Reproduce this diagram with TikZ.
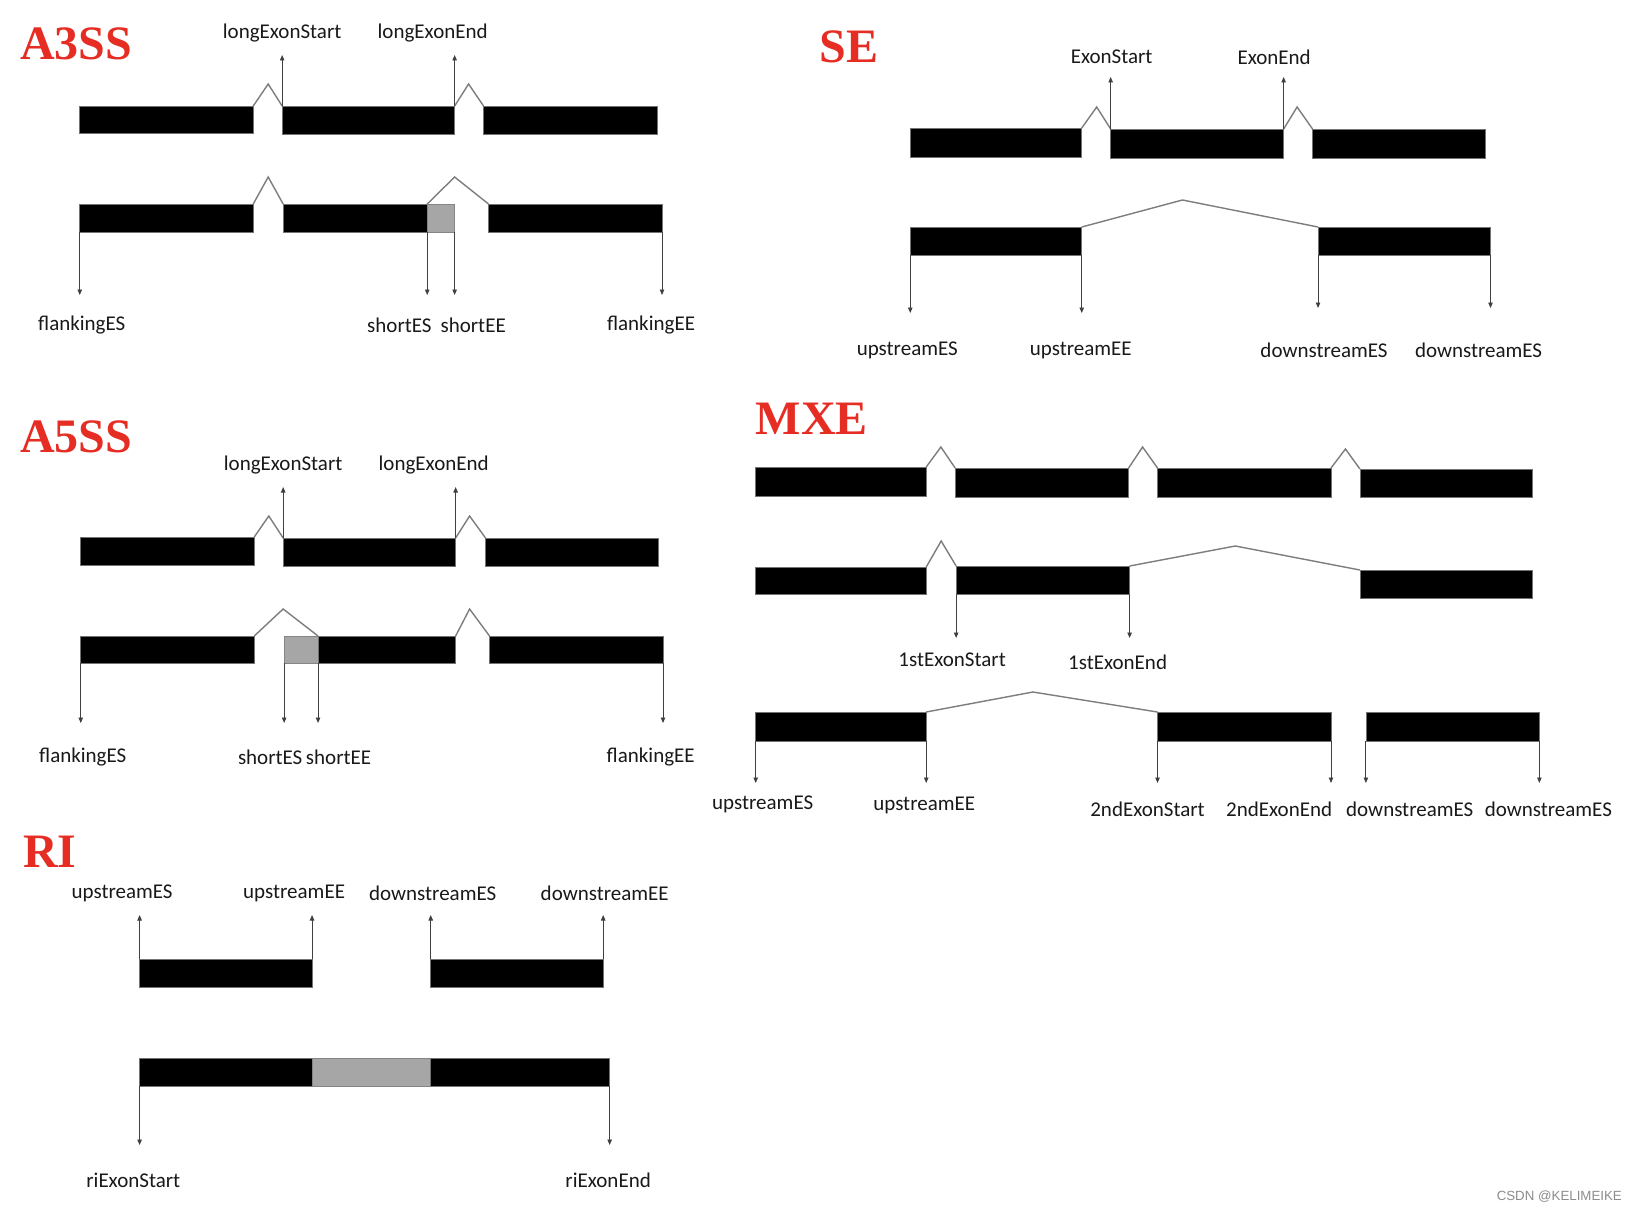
\documentclass[tikz,border=0pt]{standalone}
\usepackage{fontspec}
\setmainfont{Carlito}
\newfontfamily\titlefont{Liberation Serif}
\newfontfamily\wmfont{Liberation Sans}
\usetikzlibrary{arrows.meta}
\definecolor{titlered}{RGB}{230,45,35}
\definecolor{exongray}{RGB}{166,166,166}
\definecolor{intgray}{RGB}{125,125,125}
\newcommand{\mkexon}[6][exon]{\node[#1, anchor=north west, minimum width={(#5-#3)*0.997}, minimum height={#6-#4}] (#2) at (#3,#4) {};}
\newcommand{\ptr}[3]{\coordinate (#1) at ([yshift=#3]#2); \draw[pointer] (#2) -- (#1);}
\tikzset{
  exon/.style={rectangle, fill=black, draw=black!55, line width=0.6pt, inner sep=0pt, outer sep=0pt},
  grayexon/.style={exon, fill=exongray, draw=exongray!80!black},
  intron/.style={draw=intgray, line width=1.4pt, line join=miter},
  pointer/.style={draw=black!75, line width=0.9pt, -{Triangle[length=5.5pt,width=4.5pt]}},
  lab/.style={inner sep=0pt, text=black!90, font=\fontsize{21}{25}\selectfont},
  ttl/.style={inner sep=0pt, anchor=base west, text=titlered, font=\titlefont\bfseries\fontsize{48}{52}\selectfont},
}
\begin{document}
\begin{tikzpicture}[x=0.997pt, y=-1pt]
\useasboundingbox[fill=white] (0,0) rectangle (1640.92,1212);

% ================= A3SS =================
\node[ttl] (tA3) at (20,60) {A3SS};
\node[lab] (la3s) at (283,33) {longExonStart};
\node[lab] (la3e) at (434,33) {longExonEnd};
\mkexon{a1e1}{80}{106}{254}{133}
\mkexon{a1e2}{283}{106}{456}{134}
\mkexon{a1e3}{485}{106}{659}{134}
\coordinate (a1p1) at (269,84);
\coordinate (a1p2) at (470,84);
\draw[intron] (a1e1.north east) -- (a1p1) -- (a1e2.north west);
\draw[intron] (a1e2.north east) -- (a1p2) -- (a1e3.north west);
\ptr{a1u1}{a1e2.north west}{51pt}
\ptr{a1u2}{a1e2.north east}{51pt}
\mkexon{a2e1}{80}{204}{254}{232}
\mkexon{a2e2}{284}{204}{428.5}{232}
\mkexon[grayexon]{a2g}{428.5}{204}{456}{232}
\mkexon{a2e3}{490}{204}{664}{232}
\coordinate (a2p1) at (269,177);
\coordinate (a2p2) at (456,177);
\draw[intron] (a2e1.north east) -- (a2p1) -- (a2e2.north west);
\draw[intron] (a2g.north west) -- (a2p2) -- (a2e3.north west);
\ptr{a2d1}{a2e1.south west}{-63pt}
\ptr{a2d2}{a2g.south west}{-63pt}
\ptr{a2d3}{a2g.south east}{-63pt}
\ptr{a2d4}{a2e3.south east}{-63pt}
\node[lab] (la3fs) at (82,325) {flankingES};
\node[lab] (la3ss) at (400.6,325) {shortES};
\node[lab] (la3se) at (474.6,325) {shortEE};
\node[lab] (la3fe) at (653,325) {flankingEE};

% ================= SE =================
\node[ttl] (tSE) at (822,63) {SE};
\node[lab] (lses) at (1115,57) {ExonStart};
\node[lab] (lsee) at (1278,57) {ExonEnd};
\mkexon{s1e1}{913}{128}{1085}{157}
\mkexon{s1e2}{1114}{129}{1287.5}{158}
\mkexon{s1e3}{1316.5}{129}{1490}{158}
\coordinate (s1p1) at (1100,107);
\coordinate (s1p2) at (1301,107);
\draw[intron] (s1e1.north east) -- (s1p1) -- (s1e2.north west);
\draw[intron] (s1e2.north east) -- (s1p2) -- (s1e3.north west);
\ptr{s1u1}{s1e2.north west}{52pt}
\ptr{s1u2}{s1e2.north east}{52pt}
\mkexon{s2e1}{913}{227}{1085}{255}
\mkexon{s2e2}{1322}{227}{1495}{255}
\coordinate (s2p1) at (1186,200);
\draw[intron] (s2e1.north east) -- (s2p1) -- (s2e2.north west);
\ptr{s2d1}{s2e1.south west}{-58pt}
\ptr{s2d2}{s2e1.south east}{-58pt}
\ptr{s2d3}{s2e2.south west}{-53pt}
\ptr{s2d4}{s2e2.south east}{-53pt}
\node[lab] (lseus) at (910,350) {upstreamES};
\node[lab] (lseue) at (1084,350) {upstreamEE};
\node[lab] (lseds) at (1328,350) {downstreamES};
\node[lab] (lsede) at (1483,350) {downstreamES};

% ================= A5SS =================
\node[ttl] (tA5) at (20,452) {A5SS};
\node[lab] (la5s) at (284,465) {longExonStart};
\node[lab] (la5e) at (435,465) {longExonEnd};
\mkexon{b1e1}{81}{537}{255}{565}
\mkexon{b1e2}{284}{538}{457}{566}
\mkexon{b1e3}{487}{538}{660}{566}
\coordinate (b1p1) at (269.6,516);
\coordinate (b1p2) at (471,516);
\draw[intron] (b1e1.north east) -- (b1p1) -- (b1e2.north west);
\draw[intron] (b1e2.north east) -- (b1p2) -- (b1e3.north west);
\ptr{b1u1}{b1e2.north west}{51pt}
\ptr{b1u2}{b1e2.north east}{51pt}
\mkexon{b2e1}{81}{636}{255}{663}
\mkexon[grayexon]{b2g}{285}{636}{319}{663}
\mkexon{b2e2}{319}{636}{457}{663}
\mkexon{b2e3}{491}{636}{665}{663}
\coordinate (b2p1) at (284,609);
\coordinate (b2p2) at (471,609);
\draw[intron] (b2e1.north east) -- (b2p1) -- (b2e2.north west);
\draw[intron] (b2e2.north east) -- (b2p2) -- (b2e3.north west);
\ptr{b2d1}{b2e1.south west}{-60pt}
\ptr{b2d2}{b2g.south west}{-60pt}
\ptr{b2d3}{b2g.south east}{-60pt}
\ptr{b2d4}{b2e3.south east}{-60pt}
\node[lab] (la5fs) at (83,757) {flankingES};
\node[lab] (la5ss) at (271,757) {shortES};
\node[lab] (la5se) at (339.6,757) {shortEE};
\node[lab] (la5fe) at (652.7,757) {flankingEE};

% ================= MXE =================
\node[ttl] (tMXE) at (758,434) {MXE};
\mkexon{m1e1}{758}{467}{929}{496}
\mkexon{m1e2}{958}{468}{1132}{497}
\mkexon{m1e3}{1161}{468}{1335}{497}
\mkexon{m1e4}{1364}{469}{1537}{497}
\coordinate (m1p1) at (943.7,447);
\coordinate (m1p2) at (1146,447);
\coordinate (m1p3) at (1349.5,449);
\draw[intron] (m1e1.north east) -- (m1p1) -- (m1e2.north west);
\draw[intron] (m1e2.north east) -- (m1p2) -- (m1e3.north west);
\draw[intron] (m1e3.north east) -- (m1p3) -- (m1e4.north west);
\mkexon{m2e1}{758}{567}{929}{594}
\mkexon{m2e2}{959}{566}{1133}{594}
\mkexon{m2e3}{1364}{570}{1537}{598}
\coordinate (m2p1) at (944,541);
\coordinate (m2p2) at (1239,546);
\draw[intron] (m2e1.north east) -- (m2p1) -- (m2e2.north west);
\draw[intron] (m2e2.north east) -- (m2p2) -- (m2e3.north west);
\ptr{m2d1}{m2e2.south west}{-44pt}
\ptr{m2d2}{m2e2.south east}{-44pt}
\node[lab] (lm1s) at (955,660) {1stExonStart};
\node[lab] (lm1e) at (1121,662) {1stExonEnd};
\mkexon{m3e1}{758}{712}{929}{741}
\mkexon{m3e2}{1161}{712}{1335}{741}
\mkexon{m3e3}{1370}{712}{1544}{741}
\coordinate (m3p1) at (1036,692);
\draw[intron] (m3e1.north east) -- (m3p1) -- (m3e2.north west);
\ptr{m3d1}{m3e1.south west}{-42pt}
\ptr{m3d2}{m3e1.south east}{-42pt}
\ptr{m3d3}{m3e2.south west}{-42pt}
\ptr{m3d4}{m3e2.south east}{-42pt}
\ptr{m3d5}{m3e3.south west}{-42pt}
\ptr{m3d6}{m3e3.south east}{-42pt}
\node[lab] (lmus) at (765,804) {upstreamES};
\node[lab] (lmue) at (927,805) {upstreamEE};
\node[lab] (lm2s) at (1151,809) {2ndExonStart};
\node[lab] (lm2e) at (1283,809) {2ndExonEnd};
\node[lab] (lmds) at (1414,809) {downstreamES};
\node[lab] (lmde) at (1553,809) {downstreamES};

% ================= RI =================
\node[ttl] (tRI) at (23,867) {RI};
\node[lab] (lrus) at (122.5,893) {upstreamES};
\node[lab] (lrue) at (295,893) {upstreamEE};
\node[lab] (lrds) at (434,893) {downstreamES};
\node[lab] (lrde) at (606.5,893) {downstreamEE};
\mkexon{r1e1}{140}{959}{313}{987}
\mkexon{r1e2}{432}{959}{605}{987}
\ptr{r1u1}{r1e1.north west}{44pt}
\ptr{r1u2}{r1e1.north east}{44pt}
\ptr{r1u3}{r1e2.north west}{44pt}
\ptr{r1u4}{r1e2.north east}{44pt}
\mkexon{r2e1}{140}{1058}{313}{1086}
\mkexon[grayexon]{r2g}{313}{1058}{432}{1086}
\mkexon{r2e2}{432}{1058}{611.5}{1086}
\ptr{r2d1}{r2e1.south west}{-59pt}
\ptr{r2d2}{r2e2.south east}{-59pt}
\node[lab] (lrs) at (133.7,1180) {riExonStart};
\node[lab] (lre) at (610,1180) {riExonEnd};

% watermark
\node[inner sep=0pt, text=black!45, font=\wmfont\fontsize{13.3}{15}\selectfont] (wm) at (1564,1197) {CSDN @KELIMEIKE};
\end{tikzpicture}
\end{document}
